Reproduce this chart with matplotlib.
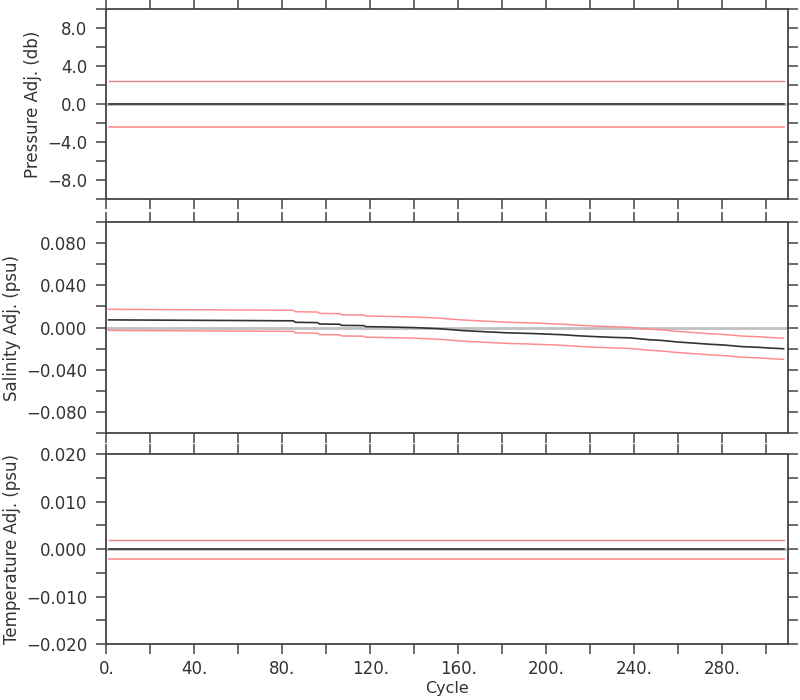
import numpy as np
import matplotlib
matplotlib.use("Agg")
import matplotlib.pyplot as plt
from matplotlib.ticker import MultipleLocator, FuncFormatter

# ---- datos ----
cycle_range = [1, 308]

pres_adj = [0.0, 0.0]
pres_err = 2.4

temp_adj = [0.0, 0.0]
temp_err = 0.002

sal_cycle = [1, 30, 60, 85, 86, 96, 97, 106, 107, 117, 118, 128, 140, 151,
             162, 173, 183, 192, 201, 208, 215, 223, 231, 238, 247, 253, 259,
             266, 274, 281, 289, 297, 303, 308]
sal_adj = [0.0073, 0.0070, 0.0067, 0.0064, 0.0050, 0.0047, 0.0034, 0.0032,
           0.0021, 0.0019, 0.0009, 0.0006, 0.0000, -0.0010, -0.0028, -0.0040,
           -0.0050, -0.0055, -0.0062, -0.0068, -0.0078, -0.0086, -0.0093,
           -0.0097, -0.0115, -0.0122, -0.0135, -0.0145, -0.0157, -0.0165,
           -0.0180, -0.0187, -0.0195, -0.0200]
sal_err = 0.01

TXT = "#333333"
RED = "#ff8c8c"
plt.rcParams["font.family"] = "DejaVu Sans"
plt.rcParams["font.size"] = 12
plt.rcParams["text.color"] = TXT
plt.rcParams["axes.labelcolor"] = TXT

fig = plt.figure(figsize=(8, 7), dpi=100)
left, width = 0.133, 0.852
ax1 = fig.add_axes([left, 0.716, width, 0.271])
ax2 = fig.add_axes([left, 0.381, width, 0.302])
ax3 = fig.add_axes([left, 0.080, width, 0.271])


def style(ax, ylim, major, minor, decimals):
    ax.set_xlim(0, 310)
    ax.set_ylim(*ylim)
    ax.xaxis.set_major_locator(MultipleLocator(40))
    ax.xaxis.set_minor_locator(MultipleLocator(20))
    ax.yaxis.set_major_locator(MultipleLocator(major))
    ax.yaxis.set_minor_locator(MultipleLocator(minor))
    fmt = "%." + str(decimals) + "f"
    ax.yaxis.set_major_formatter(
        FuncFormatter(lambda v, p: (fmt % (v + 0.0)).replace("-", "\u2212")
                      if abs(v) > 1e-12 else fmt % 0.0))
    ax.xaxis.set_major_formatter(FuncFormatter(lambda v, p: "%d." % v))
    ax.tick_params(which="both", direction="out", length=7.2, width=1.1,
                   color="#444444", labelcolor=TXT, top=True, right=True,
                   labelsize=12)
    ax.tick_params(axis="y", pad=6.5)
    ax.tick_params(axis="x", pad=4.5)
    for s in ax.spines.values():
        s.set_color("#444444")
        s.set_linewidth(1.3)


# Presion
c = np.array(cycle_range)
p = np.array(pres_adj)
ax1.axhline(0, color="#c0c0c0", lw=2)
ax1.plot(c, p + pres_err, color="#e88080", lw=1)
ax1.plot(c, p - pres_err, color=RED, lw=1.2)
ax1.plot(c, p, color="#333333", lw=1.2)
style(ax1, (-10, 10), 4, 2, 1)
ax1.set_ylabel("Pressure Adj. (db)", labelpad=3.5)
ax1.tick_params(axis="x", labelbottom=False)

# Salinidad
sc = np.array(sal_cycle)
sa = np.array(sal_adj)
ax2.axhline(0, color="#c0c0c0", lw=2)
ax2.plot(sc, sa + sal_err, color=RED, lw=1.1)
ax2.plot(sc, sa - sal_err, color=RED, lw=1.1)
ax2.plot(sc, sa, color="#333333", lw=1.2)
style(ax2, (-0.1, 0.1), 0.04, 0.02, 3)
ax2.set_ylabel("Salinity Adj. (psu)", labelpad=3.5)
ax2.tick_params(axis="x", labelbottom=False)

# Temperatura
t = np.array(temp_adj)
ax3.axhline(0, color="#c0c0c0", lw=2)
ax3.plot(c, t + temp_err, color="#e88080", lw=1)
ax3.plot(c, t - temp_err, color=RED, lw=1.2)
ax3.plot(c, t, color="#333333", lw=1.2)
style(ax3, (-0.02, 0.02), 0.01, 0.005, 3)
ax3.set_ylabel("Temperature Adj. (psu)", labelpad=3.5)
ax3.set_xlabel("Cycle", labelpad=2, fontsize=11.5)

fig.savefig("out.png", dpi=100)
